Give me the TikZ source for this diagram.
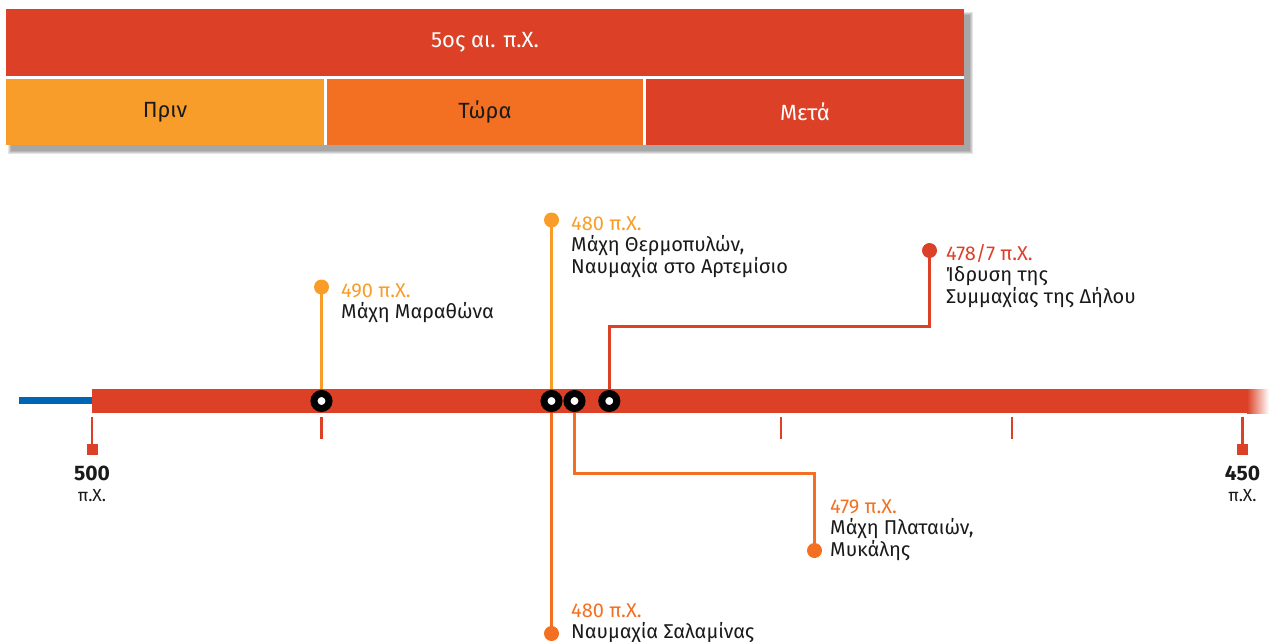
\documentclass[tikz,border=0pt]{standalone}
\usepackage{fontspec}
\setmainfont{Fira Sans}
\usetikzlibrary{backgrounds}
\definecolor{tred}{HTML}{DC4128}
\definecolor{tlight}{HTML}{F99D2A}
\definecolor{tdark}{HTML}{F37022}
\definecolor{tblue}{HTML}{0066B3}
\definecolor{ttext}{HTML}{1A1A1A}
\tikzset{
  cell/.style={inner sep=0pt, minimum height=66.6pt, font=\fontsize{22}{26}\selectfont},
  marker/.style={circle, fill=white, draw=black, line width=7pt, minimum size=15pt, inner sep=0pt},
  evdot/.style={circle, inner sep=0pt, minimum size=15pt},
  evline/.style={line width=2.8pt},
  datetxt/.style={anchor=base west, inner sep=0pt, font=\fontsize{20}{24}\selectfont},
  desctxt/.style={anchor=base west, inner sep=0pt, text=ttext, font=\fontsize{20}{24}\selectfont},
  tick/.style={draw=tred, line width=2.5pt},
  endsq/.style={fill=tred, inner sep=0pt, minimum size=11pt},
  yearbig/.style={anchor=base, inner sep=0pt, text=ttext, font=\fontsize{21}{24}\selectfont\bfseries},
  yearsmall/.style={anchor=base, inner sep=0pt, text=ttext, font=\fontsize{17.5}{20}\selectfont},
}
\begin{document}
\begin{tikzpicture}[x=1pt,y=-1pt]
\useasboundingbox (0,0) rectangle (1269,641);
% shadow of the header
\foreach \b in {0,1,2,3}
  \fill[black, opacity=0.10] (11-\b,15-\b) rectangle (970+\b,151+\b);
\fill[white] (6,9.5) rectangle (964,145.3);
% header
\node[cell, fill=tred, minimum width=958pt, text=white] (head) at (485,42.75) {5ος αι. π.Χ.};
\node[cell, fill=tlight, minimum width=318pt, text=ttext] (prin) at (165,112) {Πριν};
\node[cell, fill=tdark, minimum width=316.6pt, text=ttext] (tora) at (485,112) {Τώρα};
\node[cell, fill=tred, minimum width=318pt, text=white] (meta) at (805,112) {Μετά};

% timeline
\draw[tblue, line width=6.5pt] (19,400.5) -- (92,400.5);
\fill[tred] (92,389) rectangle (1247,413);
\shade[left color=tred, right color=white] (1247,389) rectangle (1269,413);

% ticks
\foreach \x in {321.5,781,1012}
  \draw[tick] (\x,417) -- (\x,439);
\draw[tick] (92,417) -- (92,446);
\draw[tick] (1242.5,417) -- (1242.5,446);
\node[endsq] (sq500) at (92,449.5) {};
\node[endsq] (sq450) at (1242.5,449.5) {};
\node[yearbig] (y500) at (92,480) {500};
\node[yearsmall] (p500) at (92,501) {π.Χ.};
\node[yearbig] (y450) at (1242.5,480) {450};
\node[yearsmall] (p450) at (1242.5,501) {π.Χ.};

% event dots
\node[evdot, fill=tlight] (d490) at (321.5,287) {};
\node[evdot, fill=tlight] (d480a) at (551.5,220) {};
\node[evdot, fill=tred] (d478) at (929.5,250.5) {};
\node[evdot, fill=tdark] (d479) at (814.5,550.5) {};
\node[evdot, fill=tdark] (d480b) at (551.5,633.5) {};

% markers on the bar
\node[marker] (m490) at (321.5,401) {};
\node[marker] (m480) at (551.5,401) {};
\node[marker] (m479) at (574.5,401) {};
\node[marker] (m478) at (609.3,401) {};

% connectors
\coordinate (c478) at (929.5,326.7);
\coordinate (c479) at (814.5,473.5);
\begin{scope}[on background layer]
\draw[evline, tlight] (d490.center) -- (m490.center);
\draw[evline, tlight] (d480a.center) -- (m480.center);
\draw[evline, tdark] (d480b.center) -- (m480.center);
\draw[evline, tred] (m478.center) |- (c478) -- (d478.center);
\draw[evline, tdark] (m479.center) |- (c479) -- (d479.center);
\end{scope}

% texts
\node[datetxt, text=tlight] (t490) at (341,297) {490 π.Χ.};
\node[desctxt] (t490a) at (341,318.5) {Μάχη Μαραθώνα};

\node[datetxt, text=tlight] (t480a) at (571,230) {480 π.Χ.};
\node[desctxt] (t480a1) at (571,251.5) {Μάχη Θερμοπυλών,};
\node[desctxt] (t480a2) at (571,273) {Ναυμαχία στο Αρτεμίσιο};

\node[datetxt, text=tred] (t478) at (946,260) {478/7 π.Χ.};
\node[desctxt] (t4781) at (946,281.5) {Ίδρυση της};
\node[desctxt] (t4782) at (946,303) {Συμμαχίας της Δήλου};

\node[datetxt, text=tdark] (t479) at (830,513) {479 π.Χ.};
\node[desctxt] (t4791) at (830,534.5) {Μάχη Πλαταιών,};
\node[desctxt] (t4792) at (830,556) {Μυκάλης};

\node[datetxt, text=tdark] (t480b) at (571,617) {480 π.Χ.};
\node[desctxt] (t480b1) at (571,638) {Ναυμαχία Σαλαμίνας};
\end{tikzpicture}
\end{document}
